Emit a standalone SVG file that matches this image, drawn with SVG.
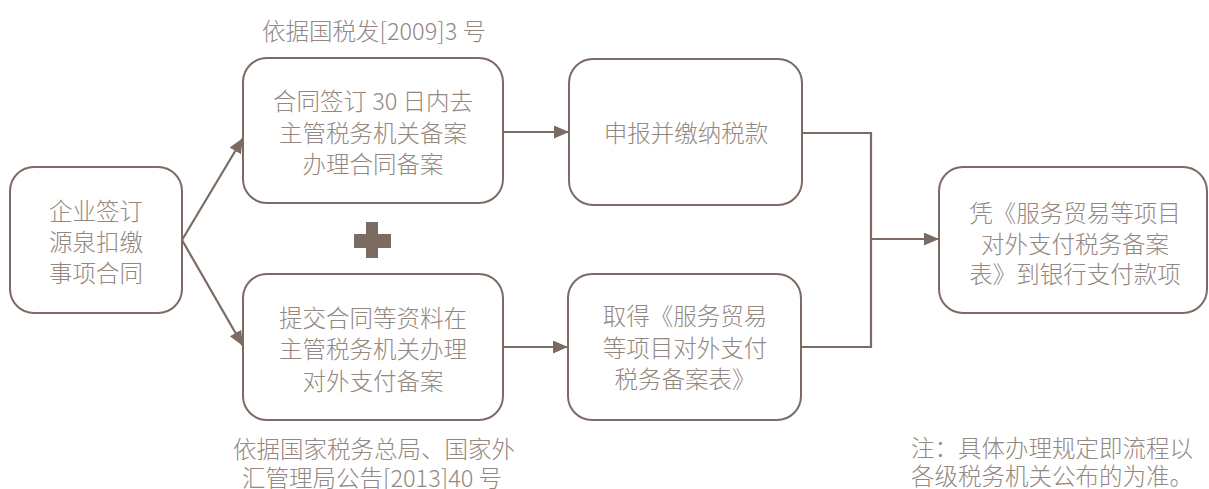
<svg xmlns="http://www.w3.org/2000/svg" width="1209" height="489" viewBox="0 0 1209 489">
<defs>
<style>
.box{fill:#fff;stroke:#7b6b63;stroke-width:2}
.ln{fill:none;stroke:#7b6b63;stroke-width:2.2}
.t{font-family:"Noto Sans CJK SC","Liberation Sans",sans-serif;font-size:23.5px;font-weight:300;fill:#938781;text-anchor:middle;dominant-baseline:central}
.n{font-family:"Noto Sans CJK SC","Liberation Sans",sans-serif;font-size:23.5px;font-weight:300;fill:#938781;dominant-baseline:central}
</style>
<marker id="ah" markerWidth="16" markerHeight="14" refX="15" refY="6.5" orient="auto" markerUnits="userSpaceOnUse">
<path d="M0,0 L15,6.5 L0,13 Z" fill="#7b6b63"/>
</marker>
</defs>
<rect width="1209" height="489" fill="#fff"/>
<g id="connectors">
<line class="ln" x1="182" y1="240" x2="243" y2="138" marker-end="url(#ah)"/>
<line class="ln" x1="182" y1="240" x2="243" y2="346" marker-end="url(#ah)"/>
<line class="ln" x1="503" y1="132" x2="569" y2="132" marker-end="url(#ah)"/>
<line class="ln" x1="503" y1="347" x2="568" y2="347" marker-end="url(#ah)"/>
<polyline class="ln" points="802,133 871,133 871,347 801,347"/>
<line class="ln" x1="871" y1="239" x2="939" y2="239" marker-end="url(#ah)"/>
</g>
<g id="plus" fill="#7b6b63">
<rect x="366" y="222" width="12" height="36"/>
<rect x="354" y="234" width="37" height="14"/>
</g>
<g id="n1">
<rect class="box" x="10" y="167" width="172" height="146" rx="24"/>
<text class="t" x="96" y="210">企业签订</text>
<text class="t" x="96" y="241">源泉扣缴</text>
<text class="t" x="96" y="272">事项合同</text>
</g>
<g id="n2">
<rect class="box" x="243" y="58" width="260" height="145" rx="24"/>
<text class="t" x="373" y="100">合同签订 30 日内去</text>
<text class="t" x="373" y="132">主管税务机关备案</text>
<text class="t" x="373" y="163">办理合同备案</text>
</g>
<g id="n3">
<rect class="box" x="243" y="274" width="260" height="146" rx="24"/>
<text class="t" x="373" y="317">提交合同等资料在</text>
<text class="t" x="373" y="348">主管税务机关办理</text>
<text class="t" x="373" y="380">对外支付备案</text>
</g>
<g id="n4">
<rect class="box" x="569" y="59" width="233" height="146" rx="24"/>
<text class="t" x="686" y="132">申报并缴纳税款</text>
</g>
<g id="n5">
<rect class="box" x="568" y="274" width="233" height="146" rx="24"/>
<text class="t" x="685" y="315">取得《服务贸易</text>
<text class="t" x="685" y="347">等项目对外支付</text>
<text class="t" x="685" y="378">税务备案表》</text>
</g>
<g id="n6">
<rect class="box" x="939" y="167" width="268" height="146" rx="24"/>
<text class="t" x="1075" y="212">凭《服务贸易等项目</text>
<text class="t" x="1075" y="243">对外支付税务备案</text>
<text class="t" x="1075" y="273">表》到银行支付款项</text>
</g>
<g id="labels">
<text class="t" x="374" y="30">依据国税发[2009]3 号</text>
<text class="t" x="374" y="448">依据国家税务总局、国家外</text>
<text class="t" x="372" y="477">汇管理局公告[2013]40 号</text>
<text class="n" x="911" y="447">注：具体办理规定即流程以</text>
<text class="n" x="911" y="475">各级税务机关公布的为准。</text>
</g>
</svg>
